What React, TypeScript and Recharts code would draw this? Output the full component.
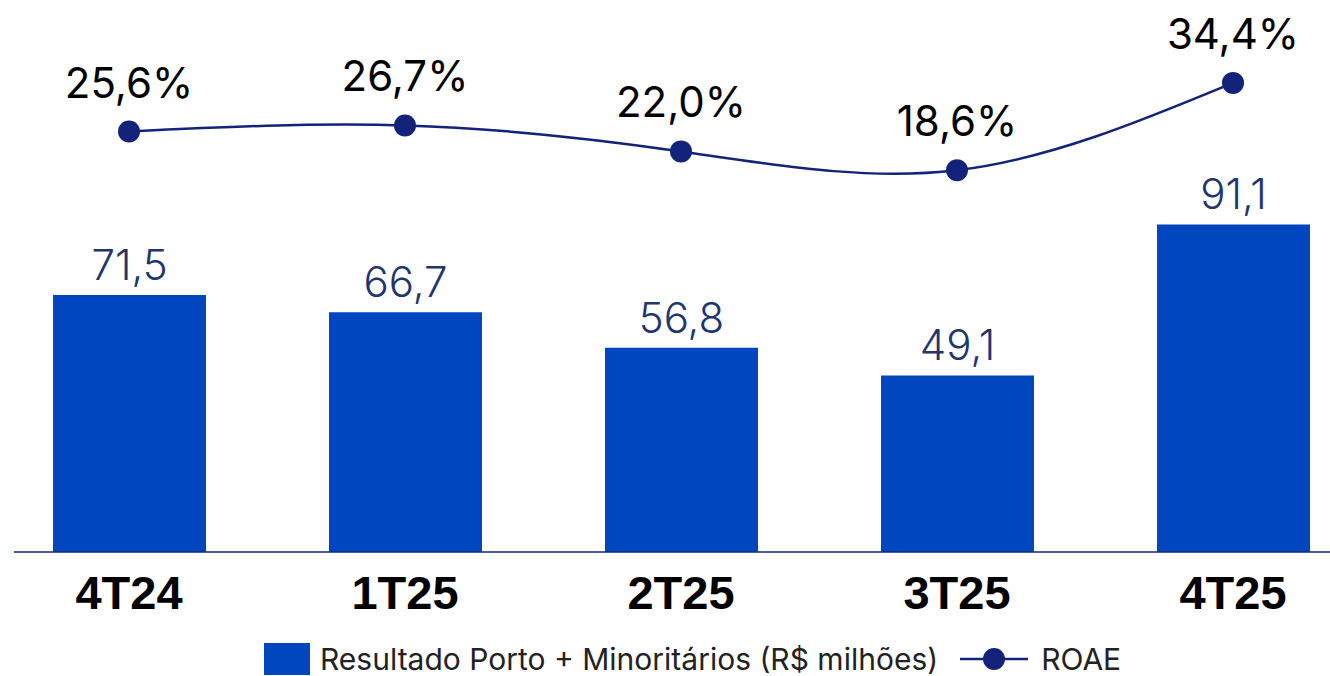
import { ComposedChart, Bar, Line, XAxis, YAxis, LabelList, Legend } from 'recharts';

const quarters = ['4T24', '1T25', '2T25', '3T25', '4T25'];
const resultado = [71.5, 66.7, 56.8, 49.1, 91.1];
const roae = [25.6, 26.7, 22.0, 18.6, 34.4];

const BAR_NAME = 'Resultado Porto + Minoritários (R$ milhões)';
const LINE_NAME = 'ROAE';

const BAR_COLOR = '#0047BF';
const LINE_COLOR = '#13237A';

const data = quarters.map((q, i) => ({ quarter: q, resultado: resultado[i], roae: roae[i] }));

const fmt = (v: number) => v.toFixed(1).replace('.', ',');

function LegendContent() {
  return (
    <div
      style={{
        display: 'flex',
        alignItems: 'center',
        fontFamily: 'Inter, sans-serif',
        fontSize: 30,
        color: '#222',
        lineHeight: '34px',
      }}
    >
      <span style={{ display: 'inline-block', width: 46, height: 32, background: BAR_COLOR, marginRight: 10 }} />
      <span>{BAR_NAME}</span>
      <svg width={68} height={24} style={{ marginLeft: 22, marginRight: 13 }}>
        <line x1={0} y1={12} x2={68} y2={12} stroke={LINE_COLOR} strokeWidth={2.5} />
        <circle cx={34} cy={12} r={11} fill={LINE_COLOR} />
      </svg>
      <span>{LINE_NAME}</span>
    </div>
  );
}

export default function App() {
  return (
    <div
      style={{
        position: 'absolute',
        left: 0,
        top: 0,
        width: 1330,
        height: 676,
        overflow: 'hidden',
        background: '#fff',
      }}
    >
      <ComposedChart
        width={1380}
        height={676}
        data={data}
        margin={{ top: 0, right: 9, bottom: 44, left: 14 }}
      >
        <XAxis
          dataKey="quarter"
          padding={{ left: -23, right: 0 }}
          height={80}
          axisLine={{ stroke: '#0D2B7A', strokeWidth: 1.5 }}
          tickLine={false}
          tickSize={6}
          tickMargin={18}
          tick={{ fontSize: 47, fontWeight: 700, fill: '#000', fontFamily: 'Liberation Sans, Arial, sans-serif' }}
          interval={0}
        />
        <YAxis yAxisId="bar" hide domain={[0, 153.5]} type="number" allowDataOverflow />
        <YAxis yAxisId="line" orientation="right" hide domain={[-50.5, 49.4]} type="number" allowDataOverflow />
        <Legend
          verticalAlign="middle"
          align="center"
          layout="horizontal"
          wrapperStyle={{ top: 642, left: 264, width: 950 }}
          content={<LegendContent />}
        />
        <Bar yAxisId="bar" dataKey="resultado" name={BAR_NAME} fill={BAR_COLOR} barSize={153} isAnimationActive={false}>
          <LabelList
            dataKey="resultado"
            position="top"
            offset={15}
            formatter={(v: number) => fmt(v)}
            style={{ fontSize: 42, fontWeight: 300, fill: '#22366B', fontFamily: 'Inter, sans-serif' }}
          />
        </Bar>
        <Line
          yAxisId="line"
          type="natural"
          dataKey="roae"
          name={LINE_NAME}
          stroke={LINE_COLOR}
          strokeWidth={2.5}
          dot={{ r: 11, fill: LINE_COLOR, stroke: LINE_COLOR, strokeWidth: 0 }}
          activeDot={false}
          isAnimationActive={false}
        >
          <LabelList
            dataKey="roae"
            position="top"
            offset={34}
            formatter={(v: number) => fmt(v) + '%'}
            style={{ fontSize: 42, fontWeight: 400, fill: '#000', fontFamily: 'Inter, sans-serif' }}
          />
        </Line>
      </ComposedChart>
    </div>
  );
}
